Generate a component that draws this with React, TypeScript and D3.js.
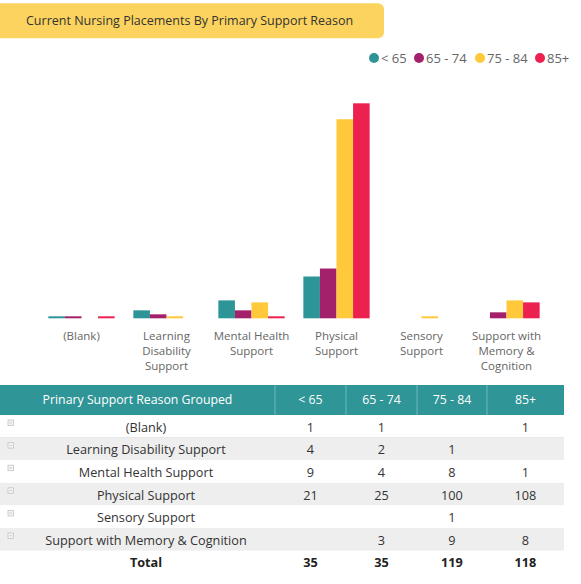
import React from 'react';
import * as d3 from 'd3';

// chart data
const categories = [
  '(Blank)',
  'Learning Disability Support',
  'Mental Health Support',
  'Physical Support',
  'Sensory Support',
  'Support with Memory & Cognition',
];
const axisLabels = [
  ['(Blank)'],
  ['Learning', 'Disability', 'Support'],
  ['Mental Health', 'Support'],
  ['Physical', 'Support'],
  ['Sensory', 'Support'],
  ['Support with', 'Memory &', 'Cognition'],
];
const ageGroups = ['< 65', '65 - 74', '75 - 84', '85+'];
const under65: (number | null)[] = [1, 4, 9, 21, null, null];
const age65to74: (number | null)[] = [1, 2, 4, 25, null, 3];
const age75to84: (number | null)[] = [null, 1, 8, 100, 1, 9];
const age85plus: (number | null)[] = [1, null, 1, 108, null, 8];
const series = [under65, age65to74, age75to84, age85plus];

const colors = ['#2D9597', '#A3206B', '#FFC93B', '#ED2150'];
const FONT = "'Segoe UI', 'Open Sans', sans-serif";

const W = 581;
const H = 584;

const App = () => {
  const x0 = d3.scaleBand<string>().domain(categories).range([39, 549]).paddingInner(0.22).paddingOuter(0.11);
  const x1 = d3.scaleBand<string>().domain(ageGroups).range([0, x0.bandwidth()]);
  const y = d3.scaleLinear().domain([0, 108]).range([318.3, 103.3]);

  // legend: dot + label, laid out left to right
  const legendX = [374, 419, 480, 540];

  // table layout
  const colEdges = [0, 275, 346, 417, 487, 564];
  const headerTop = 385;
  const headerH = 30;
  const rowH = 22.6;
  const rowTop = (i: number) => headerTop + headerH + i * rowH;
  const totals = series.map(s => d3.sum(s.map(v => v ?? 0)));
  const colCenter = (i: number) => (colEdges[i] + colEdges[i + 1]) / 2;
  const rowText = (i: number) => rowTop(i) + rowH / 2 + 1;

  return (
    <svg width={W} height={H} style={{ position: 'absolute', left: 0, top: 0, fontFamily: FONT }}>
      <rect x={0} y={0} width={W} height={H} fill="#fff" />

      {/* title pill */}
      <path d="M0,3.3 H378 a6,6 0 0 1 6,6 V32.3 a6,6 0 0 1 -6,6 H0 Z" fill="#FCD35E" />
      <text x={26} y={21} dy="0.35em" fontSize={12.5} fill="#333">
        Current Nursing Placements By Primary Support Reason
      </text>

      {/* legend */}
      {ageGroups.map((g, i) => (
        <g key={g} transform={`translate(${legendX[i]},58)`}>
          <circle r={5} fill={colors[i]} />
          <text x={7} dy="0.35em" fontSize={13} fill="#666">{g}</text>
        </g>
      ))}

      {/* bars */}
      {categories.map((c, ci) => (
        <g key={c} transform={`translate(${x0(c)},0)`}>
          {series.map((s, si) => {
            const v = s[ci];
            if (v == null) return null;
            return (
              <rect
                key={si}
                x={x1(ageGroups[si])}
                y={y(v)}
                width={x1.bandwidth()}
                height={y(0) - y(v)}
                fill={colors[si]}
              />
            );
          })}
          {axisLabels[ci].map((line, li) => (
            <text
              key={li}
              x={x0.bandwidth() / 2}
              y={336 + li * 15}
              dy="0.35em"
              textAnchor="middle"
              fontSize={11.5}
              fill="#666"
            >
              {line}
            </text>
          ))}
        </g>
      ))}

      {/* table header */}
      <rect x={0} y={headerTop} width={colEdges[5]} height={headerH} fill="#2F9597" />
      {colEdges.slice(1, 5).map(e => (
        <line key={e} x1={e} x2={e} y1={headerTop} y2={headerTop + headerH} stroke="#6DB8B9" strokeWidth={1} />
      ))}
      <text x={colCenter(0)} y={headerTop + headerH / 2} dy="0.35em" textAnchor="middle" fontSize={12.3} fill="#fff">
        Prinary Support Reason Grouped
      </text>
      {ageGroups.map((g, i) => (
        <text key={g} x={colCenter(i + 1)} y={headerTop + headerH / 2} dy="0.35em" textAnchor="middle" fontSize={12.3} fill="#fff">
          {g}
        </text>
      ))}

      {/* table body */}
      {categories.map((c, ri) => (
        <g key={c}>
          <rect x={0} y={rowTop(ri)} width={colEdges[5]} height={rowH} fill={ri % 2 === 1 ? '#EEEEEE' : '#fff'} />
          <rect x={8} y={rowTop(ri) + 5} width={5.5} height={5.5} fill="#f4f4f4" stroke="#c4c4c4" strokeWidth={0.8} />
          <line x1={9.6} x2={11.9} y1={rowTop(ri) + 7.75} y2={rowTop(ri) + 7.75} stroke="#aaa" strokeWidth={0.6} />
          <text x={146} y={rowText(ri)} dy="0.35em" textAnchor="middle" fontSize={12.7} fill="#333">
            {c}
          </text>
          {series.map((s, si) =>
            s[ri] == null ? null : (
              <text key={si} x={colCenter(si + 1)} y={rowText(ri)} dy="0.35em" textAnchor="middle" fontSize={12.7} fill="#333">
                {s[ri]}
              </text>
            )
          )}
        </g>
      ))}
      <line x1={0} x2={colEdges[5]} y1={rowTop(1)} y2={rowTop(1)} stroke="#e6e6e6" />

      {/* totals */}
      <text x={146} y={rowText(6)} dy="0.35em" textAnchor="middle" fontSize={12.7} fontWeight="bold" fill="#222">
        Total
      </text>
      {totals.map((t, i) => (
        <text key={i} x={colCenter(i + 1)} y={rowText(6)} dy="0.35em" textAnchor="middle" fontSize={12.7} fontWeight="bold" fill="#222">
          {t}
        </text>
      ))}
    </svg>
  );
};

export default App;
